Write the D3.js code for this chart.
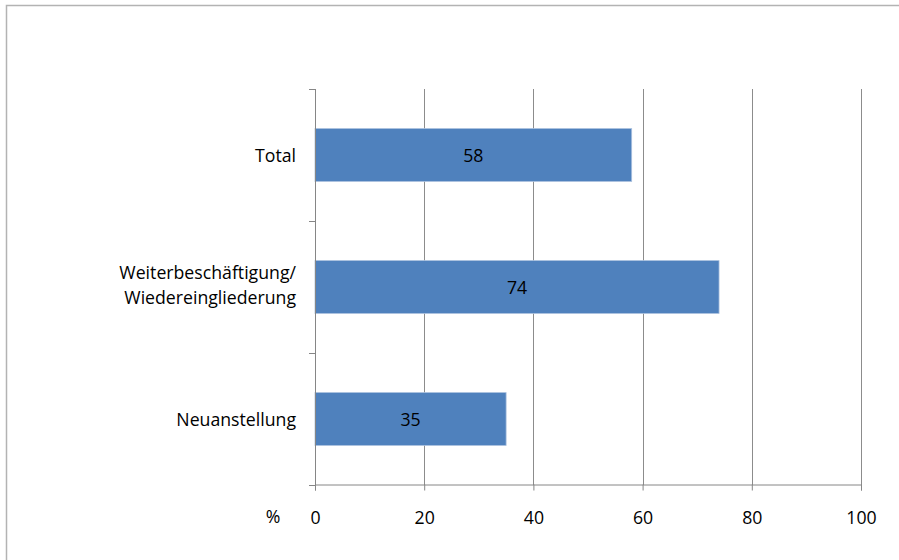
<!DOCTYPE html>
<html><head><meta charset="utf-8">
<script src="https://cdn.jsdelivr.net/npm/d3@7"></script>
<style>body{margin:0;background:#fff}svg{display:block}</style>
</head><body>
<script>
const categories = ["Total", "Weiterbeschäftigung/\nWiedereingliederung", "Neuanstellung"];
const values = [58, 74, 35];
const xTicks = [0, 20, 40, 60, 80, 100];
const unitLabel = "%";

const W = 899, H = 560;
const FONT = "'Open Sans', sans-serif";
const FS = 17.7;
const svg = d3.select("body").append("svg").attr("width", W).attr("height", H)
  .style("font-family", FONT);

svg.append("rect").attr("x", 6.5).attr("y", 5.5).attr("width", W + 10).attr("height", H + 10)
  .attr("fill", "#fff").attr("stroke", "#b3b3b3").attr("stroke-width", 1.5);

const x = d3.scaleLinear().domain([0, 100]).range([315, 861]);
const y = d3.scaleBand().domain(categories).range([89, 485]).paddingInner(0.6).paddingOuter(0.3);

// gridlines
svg.append("g").selectAll("line").data(xTicks.slice(1)).join("line")
  .attr("x1", d => Math.round(x(d)) + 0.5).attr("x2", d => Math.round(x(d)) + 0.5)
  .attr("y1", 89).attr("y2", 485).attr("stroke", "#8c8c8c").attr("stroke-width", 1);

// bars
svg.append("g").selectAll("rect").data(categories).join("rect")
  .attr("x", x(0)).attr("y", d => y(d))
  .attr("width", (d, i) => x(values[i]) - x(0)).attr("height", y.bandwidth())
  .attr("fill", "#4f81bd").attr("stroke", "#a9c0de").attr("stroke-width", 0.8);

// value labels
svg.append("g").selectAll("text").data(categories).join("text")
  .attr("x", (d, i) => (x(0) + x(values[i])) / 2).attr("y", d => y(d) + y.bandwidth() / 2 + 6.5)
  .attr("text-anchor", "middle").attr("font-size", FS).attr("fill", "#000")
  .text((d, i) => values[i]);

// x axis
const xAxis = d3.axisBottom(x).tickValues(xTicks).tickSize(6).tickFormat(d3.format("d"));
const gx = svg.append("g").attr("transform", "translate(0,484.5)").call(xAxis);
gx.select(".domain").attr("stroke", "#868686");
gx.selectAll(".tick line").attr("stroke", "#868686");
gx.selectAll(".tick text").attr("font-size", FS).attr("fill", "#000").attr("font-family", FONT)
  .attr("y", 39.5).attr("dy", 0);

svg.append("text").attr("x", 273).attr("y", 523).attr("text-anchor", "middle")
  .attr("font-size", FS).text(unitLabel);

// y axis
const yAxis = d3.axisLeft(y).tickSize(0).tickFormat("");
const gy = svg.append("g").attr("transform", "translate(315.5,0)").call(yAxis);
gy.select(".domain").attr("stroke", "#868686").attr("d", "M0,89V485");
const bounds = [89, 221, 353, 485];
svg.append("g").selectAll("line").data(bounds).join("line")
  .attr("x1", 309).attr("x2", 315.5).attr("y1", d => d + 0.5).attr("y2", d => d + 0.5)
  .attr("stroke", "#868686");

// category labels
svg.append("g").selectAll("text").data(categories).join("text")
  .attr("text-anchor", "end").attr("font-size", FS).attr("fill", "#000")
  .each(function(d) {
    const lines = d.split("\n");
    const cy = y(d) + y.bandwidth() / 2;
    const lh = 25;
    const off = lines.length > 1 ? 4.5 : 6.5;
    lines.forEach((l, i) => {
      d3.select(this).append("tspan").attr("x", 296)
        .attr("y", cy + off + (i - (lines.length - 1) / 2) * lh).text(l);
    });
  });
</script>
</body></html>
